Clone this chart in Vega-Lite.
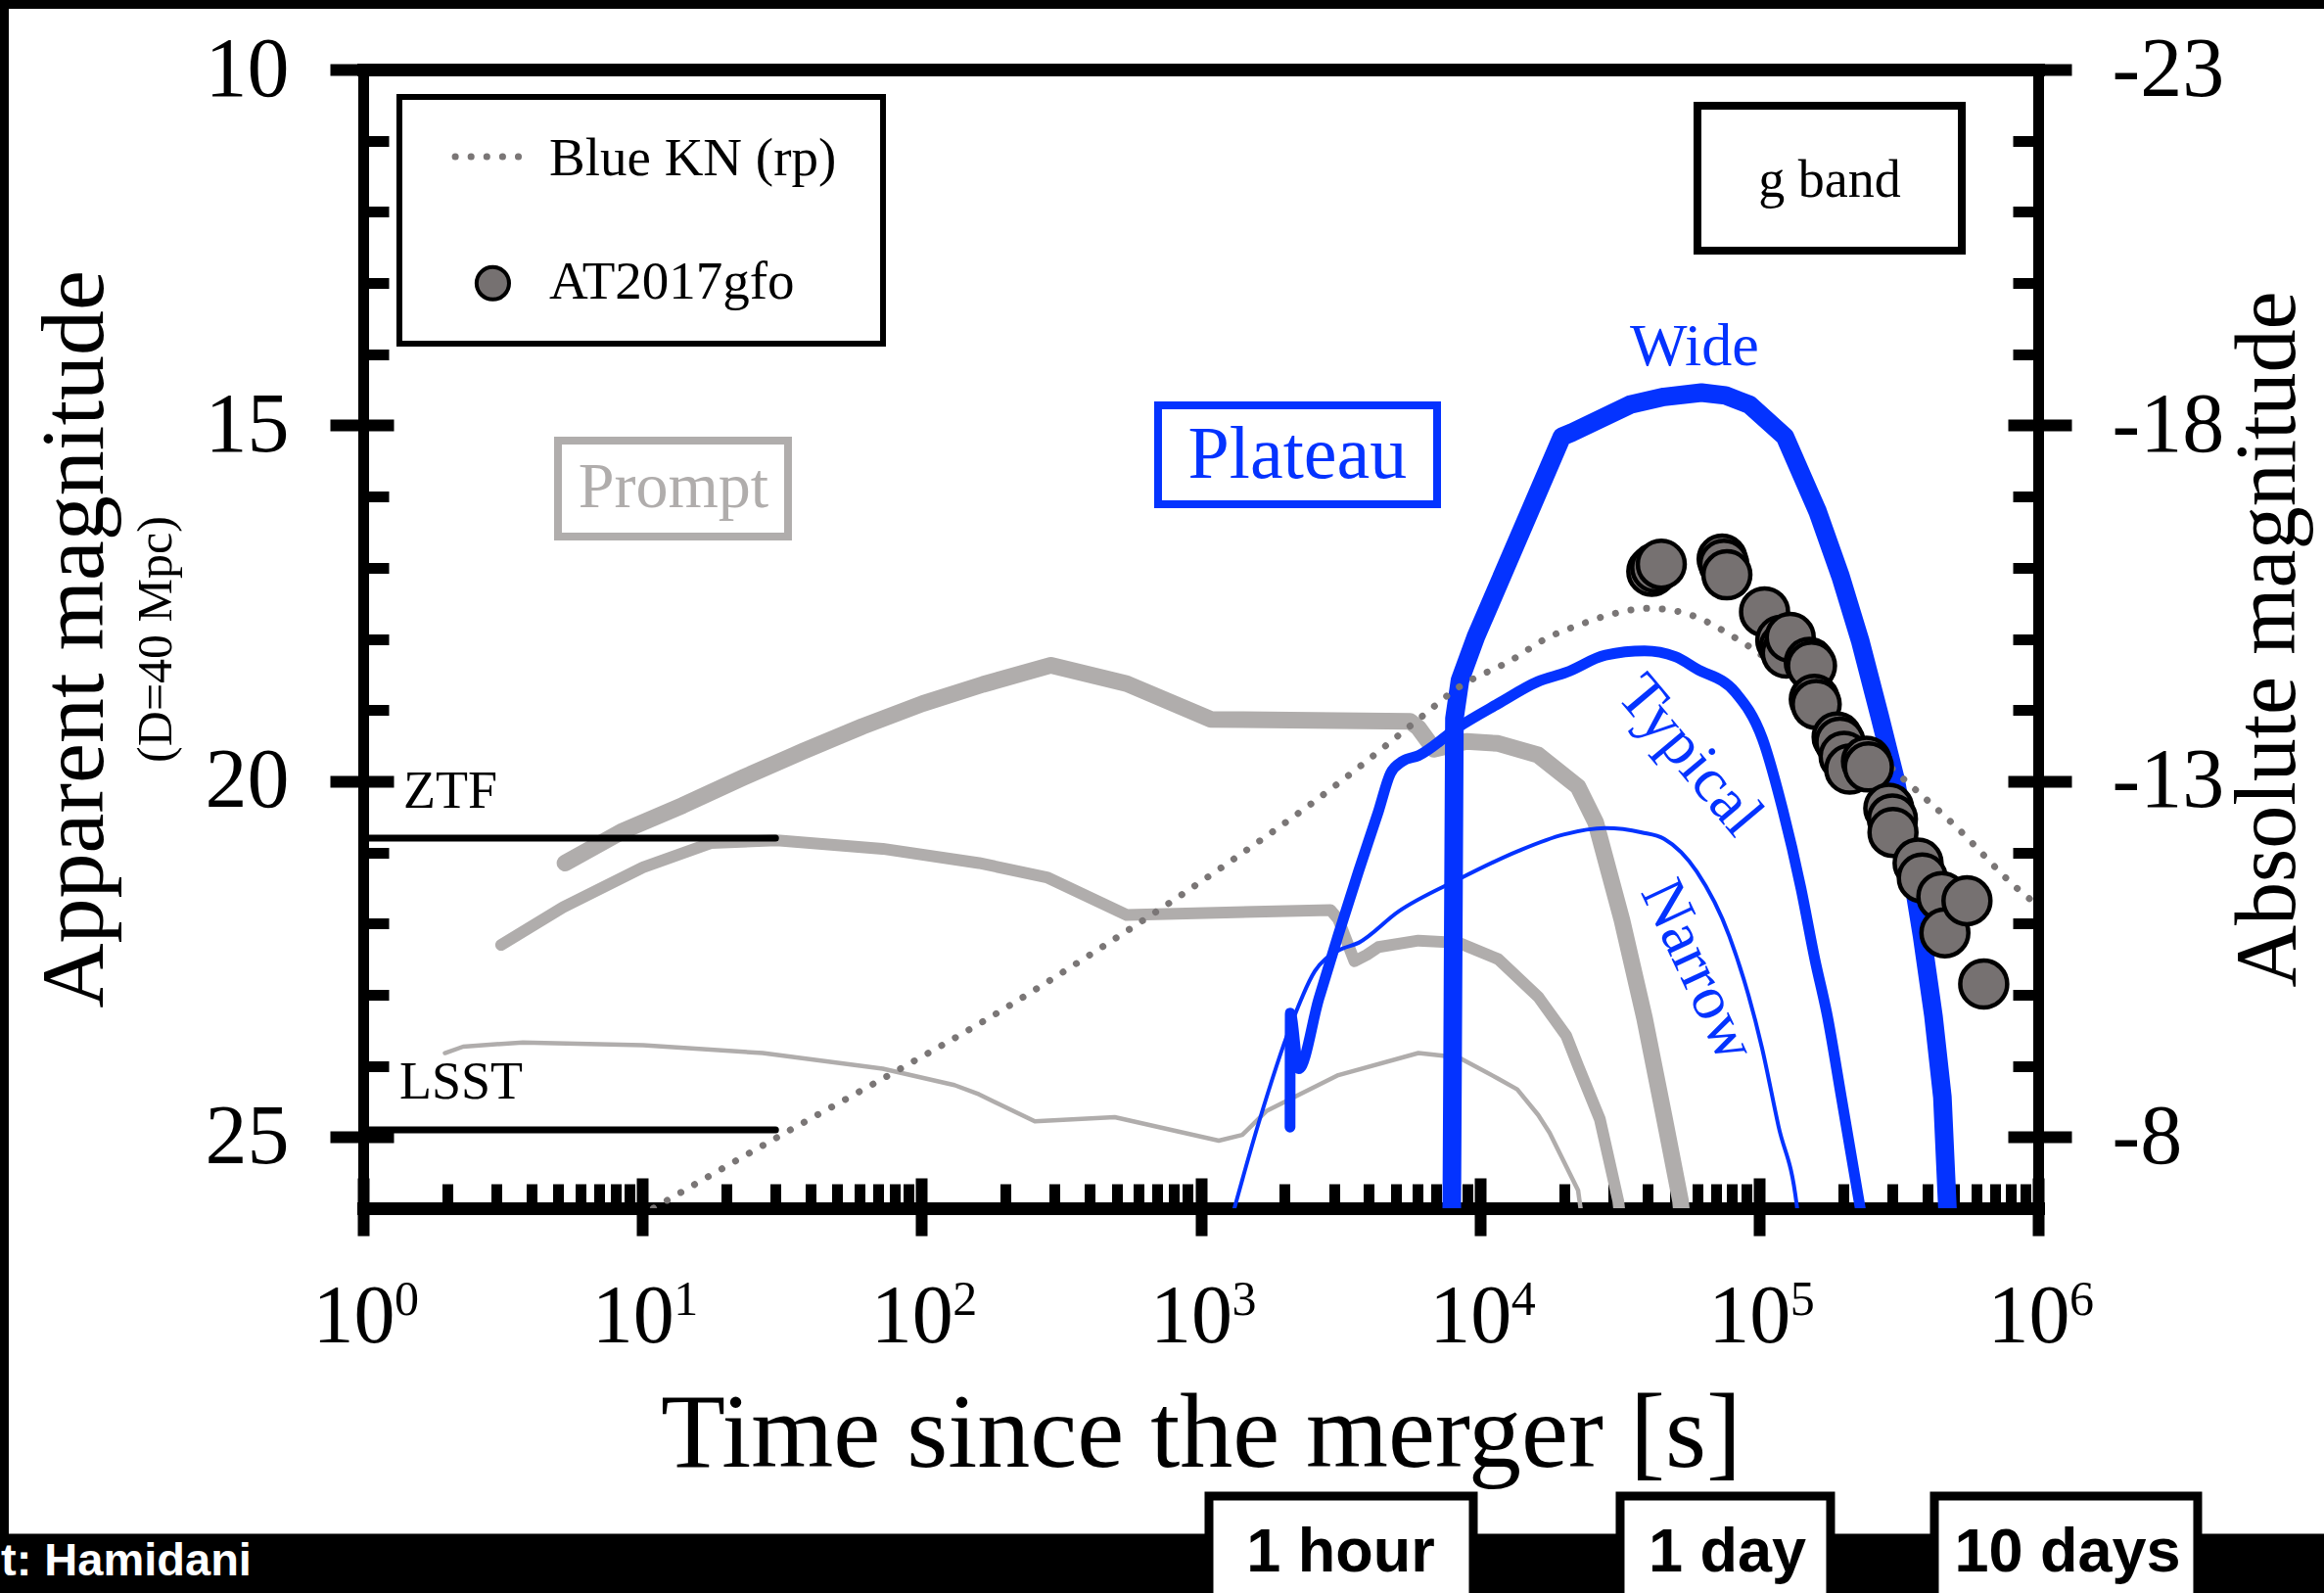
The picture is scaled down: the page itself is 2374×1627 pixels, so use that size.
{
"$schema": "https://vega.github.io/schema/vega-lite/v6.json",
"width": 1711, "height": 1163,
"autosize": {"type": "none"},
"padding": {"left": 371, "top": 71, "right": 292, "bottom": 393},
"background": "white",
"datasets": {
"curves": [
{"s":"g1","t":5.283,"m":21.15},{"s":"g1","t":8.511,"m":20.70},{"s":"g1","t":13.96,"m":20.34},{"s":"g1","t":22.91,"m":19.95},{"s":"g1","t":37.58,"m":19.58},{"s":"g1","t":61.52,"m":19.23},{"s":"g1","t":100.9,"m":18.91},{"s":"g1","t":166,"m":18.64},{"s":"g1","t":291.1,"m":18.37},{"s":"g1","t":543.3,"m":18.63},{"s":"g1","t":1086,"m":19.13},{"s":"g1","t":5636,"m":19.16},{"s":"g1","t":6026,"m":19.25},{"s":"g1","t":6855,"m":19.55},{"s":"g1","t":8954,"m":19.44},{"s":"g1","t":11641,"m":19.47},{"s":"g1","t":16144,"m":19.63},{"s":"g1","t":22491,"m":20.08},{"s":"g1","t":26002,"m":20.58},{"s":"g1","t":32285,"m":21.95},{"s":"g1","t":38905,"m":23.33},{"s":"g1","t":45709,"m":24.71},{"s":"g1","t":52360,"m":25.9},{"s":"g1","t":53830,"m":26.4},
{"s":"g2","t":3.119,"m":22.30},{"s":"g2","t":5.2,"m":21.77},{"s":"g2","t":10.05,"m":21.21},{"s":"g2","t":17.58,"m":20.87},{"s":"g2","t":30.27,"m":20.83},{"s":"g2","t":72.61,"m":20.95},{"s":"g2","t":160.7,"m":21.15},{"s":"g2","t":281.2,"m":21.35},{"s":"g2","t":543.3,"m":21.88},{"s":"g2","t":2917,"m":21.81},{"s":"g2","t":3112,"m":21.94},{"s":"g2","t":3556,"m":22.53},{"s":"g2","t":3936,"m":22.44},{"s":"g2","t":4335,"m":22.33},{"s":"g2","t":6026,"m":22.24},{"s":"g2","t":8395,"m":22.27},{"s":"g2","t":11641,"m":22.50},{"s":"g2","t":16181,"m":23.03},{"s":"g2","t":20417,"m":23.58},{"s":"g2","t":22491,"m":24.0},{"s":"g2","t":26915,"m":24.75},{"s":"g2","t":31333,"m":25.9},{"s":"g2","t":32359,"m":26.4},
{"s":"g3","t":1.963,"m":23.82},{"s":"g3","t":2.28,"m":23.73},{"s":"g3","t":3.733,"m":23.67},{"s":"g3","t":10.05,"m":23.71},{"s":"g3","t":26.98,"m":23.82},{"s":"g3","t":72.61,"m":24.04},{"s":"g3","t":131.2,"m":24.27},{"s":"g3","t":160.7,"m":24.40},{"s":"g3","t":254.7,"m":24.78},{"s":"g3","t":492,"m":24.72},{"s":"g3","t":1161,"m":25.05},{"s":"g3","t":1409,"m":24.97},{"s":"g3","t":1726,"m":24.63},{"s":"g3","t":3112,"m":24.13},{"s":"g3","t":6026,"m":23.82},{"s":"g3","t":8395,"m":23.88},{"s":"g3","t":11641,"m":24.18},{"s":"g3","t":13614,"m":24.33},{"s":"g3","t":16181,"m":24.69},{"s":"g3","t":17783,"m":24.94},{"s":"g3","t":22491,"m":25.75},{"s":"g3","t":23714,"m":26.4},
{"s":"kn","t":10.96,"m":26.0},{"s":"kn","t":31.84,"m":24.96},{"s":"kn","t":81.47,"m":24.07},{"s":"kn","t":165.6,"m":23.38},{"s":"kn","t":431.5,"m":22.36},{"s":"kn","t":1161,"m":21.24},{"s":"kn","t":3112,"m":20.03},{"s":"kn","t":6209,"m":19.09},{"s":"kn","t":8395,"m":18.68},{"s":"kn","t":12823,"m":18.31},{"s":"kn","t":17783,"m":17.97},{"s":"kn","t":22856,"m":17.80},{"s":"kn","t":29242,"m":17.66},{"s":"kn","t":40551,"m":17.57},{"s":"kn","t":56494,"m":17.66},{"s":"kn","t":82604,"m":17.99},{"s":"kn","t":92470,"m":18.11},{"s":"kn","t":169824,"m":18.95},{"s":"kn","t":309030,"m":19.87},{"s":"kn","t":514044,"m":20.66},{"s":"kn","t":837529,"m":21.50},{"s":"kn","t":1000000,"m":21.75},
{"s":"wide","t":7925,"m":26.4},{"s":"wide","t":8110,"m":19.12},{"s":"wide","t":8492,"m":18.58},{"s":"wide","t":9683,"m":17.97},{"s":"wide","t":19679,"m":15.16},{"s":"wide","t":21380,"m":15.10},{"s":"wide","t":34514,"m":14.71},{"s":"wide","t":45709,"m":14.60},{"s":"wide","t":62230,"m":14.54},{"s":"wide","t":75858,"m":14.58},{"s":"wide","t":92470,"m":14.71},{"s":"wide","t":123880,"m":15.16},{"s":"wide","t":162181,"m":16.21},{"s":"wide","t":195884,"m":17.12},{"s":"wide","t":230144,"m":18.02},{"s":"wide","t":270396,"m":19.08},{"s":"wide","t":309030,"m":19.99},{"s":"wide","t":344350,"m":21.04},{"s":"wide","t":383707,"m":22.17},{"s":"wide","t":421697,"m":23.30},{"s":"wide","t":453942,"m":24.44},{"s":"wide","t":473151,"m":26.0},{"s":"wide","t":478630,"m":26.4},
{"s":"typ","t":2090,"m":24.86},{"s":"typ","t":2094,"m":23.26},{"s":"typ","t":2244,"m":24.04},{"s":"typ","t":2649,"m":23.06},{"s":"typ","t":3112,"m":22.16},{"s":"typ","t":3681,"m":21.26},{"s":"typ","t":4335,"m":20.42},{"s":"typ","t":4786,"m":19.89},{"s":"typ","t":5284,"m":19.72},{"s":"typ","t":6026,"m":19.64},{"s":"typ","t":8375,"m":19.24},{"s":"typ","t":11641,"m":18.91},{"s":"typ","t":16144,"m":18.60},{"s":"typ","t":20417,"m":18.47},{"s":"typ","t":28184,"m":18.23},{"s":"typ","t":38905,"m":18.17},{"s":"typ","t":50119,"m":18.25},{"s":"typ","t":59704,"m":18.42},{"s":"typ","t":82224,"m":18.75},{"s":"typ","t":102802,"m":19.4},{"s":"typ","t":121619,"m":20.4},{"s":"typ","t":141254,"m":21.5},{"s":"typ","t":158489,"m":22.5},{"s":"typ","t":175792,"m":23.3},{"s":"typ","t":197242,"m":24.44},{"s":"typ","t":239883,"m":26.4},
{"s":"nar","t":1239,"m":26.4},{"s":"nar","t":1614,"m":24.80},{"s":"nar","t":2094,"m":23.45},{"s":"nar","t":2564,"m":22.67},{"s":"nar","t":3112,"m":22.38},{"s":"nar","t":3681,"m":22.27},{"s":"nar","t":5117,"m":21.83},{"s":"nar","t":8375,"m":21.38},{"s":"nar","t":13740,"m":20.98},{"s":"nar","t":19953,"m":20.75},{"s":"nar","t":28184,"m":20.66},{"s":"nar","t":38019,"m":20.72},{"s":"nar","t":45709,"m":20.81},{"s":"nar","t":59841,"m":21.27},{"s":"nar","t":78343,"m":22.18},{"s":"nar","t":102565,"m":23.75},{"s":"nar","t":117490,"m":24.85},{"s":"nar","t":136458,"m":25.95},{"s":"nar","t":140605,"m":26.4}
],
"pts": [
{"t":41300,"m":17.05},{"t":42660,"m":17.00},{"t":44670,"m":16.95},{"t":73790,"m":16.88},{"t":74820,"m":16.95},{"t":76740,"m":17.10},{"t":104700,"m":17.62},{"t":119700,"m":18.02},{"t":123000,"m":18.12},{"t":125300,"m":18.20},{"t":129400,"m":17.98},{"t":151400,"m":18.33},{"t":154200,"m":18.38},{"t":157800,"m":18.85},{"t":160300,"m":18.92},{"t":190500,"m":19.38},{"t":195000,"m":19.45},{"t":201800,"m":19.65},{"t":211300,"m":19.83},{"t":242700,"m":19.72},{"t":246600,"m":19.80},{"t":291700,"m":20.38},{"t":300600,"m":20.53},{"t":302000,"m":20.72},{"t":371500,"m":21.15},{"t":384600,"m":21.36},{"t":451900,"m":21.62},{"t":463400,"m":22.13},{"t":555900,"m":21.68},{"t":638300,"m":22.85}
]
},
"encoding": {
"x": {"field": "t", "type": "quantitative", "scale": {"type": "log", "domain": [1, 1000000], "nice": false}, "axis": null},
"y": {"field": "m", "type": "quantitative", "scale": {"domain": [10, 26], "reverse": true, "nice": false, "zero": false}, "axis": null}
},
"layer": [
{"data": {"values": [{"t":0.01,"t2":100000000,"m":5,"m2":9.147},{"t":0.01,"t2":0.05376,"m":5,"m2":33},{"t":0.01,"t2":100000000,"m":30.576,"m2":33}]},
 "mark": {"type": "rect", "color": "black"},
 "encoding": {"x2": {"field": "t2"}, "y2": {"field": "m2"}}},

{"data": {"values": [{"t":1000,"m":20}]}, "mark": {"type": "point", "opacity": 0},
 "encoding": {
  "x": {"field": "t", "type": "quantitative", "scale": {"type": "log", "domain": [1, 1000000], "nice": false},
        "axis": {"orient": "bottom", "values": [1,10,100,1000,10000,100000,1000000], "tickSize": 28, "tickWidth": 12, "domain": true, "domainWidth": 13,
                 "labelExpr": "'10'", "labelFontSize": 84, "labelPadding": 108, "labelBaseline": "alphabetic", "labelOffset": -10,
                 "title": "Time since the merger [s]", "titleFontSize": 108, "titleX": 855.5, "titleY": 263, "titleBaseline": "alphabetic", "titleAlign": "center", "titleAngle": 0}},
  "y": {"field": "m", "type": "quantitative", "scale": {"domain": [10, 26], "reverse": true, "nice": false, "zero": false},
        "axis": {"orient": "left", "values": [10,15,20,25], "tickSize": 34, "tickWidth": 12, "domain": true, "domainWidth": 11,
                 "labelFontSize": 86, "labelPadding": 42,
                 "title": "Apparent magnitude", "titleFontSize": 92, "titleX": -295, "titleY": 581.5, "titleAngle": -90, "titleBaseline": "middle", "titleAlign": "center"}}}},

{"data": {"values": [{"t":1000,"m":20}]}, "mark": {"type": "point", "opacity": 0},
 "encoding": {
  "x": {"field": "t", "type": "quantitative", "scale": {"type": "log", "domain": [1, 1000000], "nice": false},
        "axis": {"orient": "bottom", "values": [1,10,100,1000,10000,100000,1000000], "tickSize": -31, "tickWidth": 12, "domain": false, "labels": false, "title": null}},
  "y": {"field": "m", "type": "quantitative", "scale": {"domain": [10, 26], "reverse": true, "nice": false, "zero": false},
        "axis": {"orient": "left", "values": [10,15,20,25], "tickSize": -31, "tickWidth": 12, "domain": false, "labels": false,
                 "title": "(D=40 Mpc)", "titleFontSize": 50, "titleX": -212, "titleY": 581.5, "titleAngle": -90, "titleBaseline": "middle", "titleAlign": "center"}}}},

{"data": {"values": [{"t":1000,"m":20}]}, "mark": {"type": "point", "opacity": 0},
 "encoding": {
  "x": {"field": "t", "type": "quantitative", "scale": {"type": "log", "domain": [1, 1000000], "nice": false},
        "axis": {"orient": "bottom", "values": [2,3,4,5,6,7,8,9,20,30,40,50,60,70,80,90,200,300,400,500,600,700,800,900,2000,3000,4000,5000,6000,7000,8000,9000,20000,30000,40000,50000,60000,70000,80000,90000,200000,300000,400000,500000,600000,700000,800000,900000],
                 "tickSize": -25, "tickWidth": 11, "domain": false, "labels": false, "title": null}},
  "y": {"field": "m", "type": "quantitative", "scale": {"domain": [10, 26], "reverse": true, "nice": false, "zero": false},
        "axis": {"orient": "left", "values": [11,12,13,14,16,17,18,19,21,22,23,24], "tickSize": -26, "tickWidth": 11, "domain": false, "labels": false, "title": null}}}},

{"data": {"values": [{"t":1000,"m":20}]}, "mark": {"type": "point", "opacity": 0},
 "encoding": {
  "x": {"field": "t", "type": "quantitative", "scale": {"type": "log", "domain": [1, 1000000], "nice": false},
        "axis": {"orient": "bottom", "values": [1,10,100,1000,10000,100000,1000000], "ticks": false, "domain": false,
                 "labelExpr": "'' + round(log(datum.value) / LN10)", "labelFontSize": 50, "labelOffset": 44, "labelPadding": 108, "labelBaseline": "alphabetic", "title": null}},
  "y": {"field": "m", "type": "quantitative", "scale": {"domain": [10, 26], "reverse": true, "nice": false, "zero": false},
        "axis": {"orient": "right", "values": [10,15,20,25], "tickSize": 34, "tickWidth": 12, "domain": true, "domainWidth": 11,
                 "labelExpr": "'-' + (33 - datum.value)", "labelFontSize": 86, "labelPadding": 41,
                 "title": "Absolute magnitude", "titleFontSize": 88, "titleX": 235, "titleY": 581.5, "titleAngle": -90, "titleBaseline": "middle", "titleAlign": "center"}}}},

{"data": {"values": [{"t":1000,"m":20}]}, "mark": {"type": "point", "opacity": 0},
 "encoding": {
  "x": {"field": "t", "type": "quantitative", "scale": {"type": "log", "domain": [1, 1000000], "nice": false},
        "axis": {"orient": "top", "ticks": false, "labels": false, "domain": true, "domainWidth": 13, "title": null}},
  "y": {"field": "m", "type": "quantitative", "scale": {"domain": [10, 26], "reverse": true, "nice": false, "zero": false},
        "axis": {"orient": "right", "values": [10,15,20,25], "tickSize": -31, "tickWidth": 12, "domain": false, "labels": false, "title": null}}}},

{"data": {"values": [{"t":1000,"m":20}]}, "mark": {"type": "point", "opacity": 0},
 "encoding": {
  "y": {"field": "m", "type": "quantitative", "scale": {"domain": [10, 26], "reverse": true, "nice": false, "zero": false},
        "axis": {"orient": "right", "values": [11,12,13,14,16,17,18,19,21,22,23,24], "tickSize": -26, "tickWidth": 11, "domain": false, "labels": false, "title": null}}}},

{"data": {"name": "curves"}, "transform": [{"filter": "datum.s === 'g3'"}],
 "mark": {"type": "line", "color": "#b0adac", "strokeWidth": 4.5, "strokeCap": "round", "strokeJoin": "round", "clip": true}},
{"data": {"name": "curves"}, "transform": [{"filter": "datum.s === 'g2'"}],
 "mark": {"type": "line", "color": "#b0adac", "strokeWidth": 12, "strokeCap": "round", "strokeJoin": "round", "clip": true}},
{"data": {"name": "curves"}, "transform": [{"filter": "datum.s === 'g1'"}],
 "mark": {"type": "line", "color": "#b0adac", "strokeWidth": 17, "strokeCap": "round", "strokeJoin": "round", "clip": true}},

{"data": {"values": [{"t":1,"t2":30,"m":20.8},{"t":1,"t2":30,"m":24.9}]},
 "mark": {"type": "rule", "color": "black", "strokeWidth": 7, "strokeCap": "round"},
 "encoding": {"x2": {"field": "t2"}}},

{"data": {"name": "curves"}, "transform": [{"filter": "datum.s === 'nar'"}],
 "mark": {"type": "line", "color": "#0433ff", "strokeWidth": 4, "strokeCap": "round", "strokeJoin": "round", "interpolate": "monotone", "clip": true}},
{"data": {"name": "curves"}, "transform": [{"filter": "datum.s === 'typ'"}],
 "mark": {"type": "line", "color": "#0433ff", "strokeWidth": 11, "strokeCap": "round", "strokeJoin": "round", "interpolate": "monotone", "clip": true}},
{"data": {"name": "curves"}, "transform": [{"filter": "datum.s === 'wide'"}],
 "mark": {"type": "line", "color": "#0433ff", "strokeWidth": 19, "strokeCap": "round", "strokeJoin": "round", "clip": true}},

{"data": {"name": "curves"}, "transform": [{"filter": "datum.s === 'kn'"}],
 "mark": {"type": "line", "color": "#7a7676", "strokeWidth": 7, "strokeCap": "round", "strokeDash": [0.1, 16], "interpolate": "monotone", "clip": true}},

{"data": {"name": "pts"},
 "mark": {"type": "circle", "size": 2300, "fill": "#767171", "stroke": "black", "strokeWidth": 4.5, "opacity": 1}},

{"data": {"values": [{"t":1.348,"t2":72.8,"m":10.385,"m2":13.852}]},
 "mark": {"type": "rect", "filled": false, "stroke": "black", "strokeWidth": 6},
 "encoding": {"x2": {"field": "t2"}, "y2": {"field": "m2"}}},
{"data": {"values": [{"t":2.137,"m":11.224},{"t":3.886,"m":11.224}]},
 "mark": {"type": "line", "color": "#7a7676", "strokeWidth": 7, "strokeCap": "round", "strokeDash": [0.1, 16]}},
{"data": {"values": [{"t":2.913,"m":13.003}]},
 "mark": {"type": "circle", "size": 1100, "fill": "#767171", "stroke": "black", "strokeWidth": 4, "opacity": 1}},
{"data": {"values": [{"t":4.638,"m":11.48,"txt":"Blue KN (rp)"},{"t":4.638,"m":13.22,"txt":"AT2017gfo"}]},
 "mark": {"type": "text", "font": "Liberation Serif", "fontSize": 55, "color": "black", "align": "left", "baseline": "alphabetic"},
 "encoding": {"text": {"field": "txt"}}},

{"data": {"values": [{"t":4.986,"t2":33.25,"m":15.214,"m2":16.562}]},
 "mark": {"type": "rect", "filled": false, "stroke": "#b0adac", "strokeWidth": 8},
 "encoding": {"x2": {"field": "t2"}, "y2": {"field": "m2"}}},
{"data": {"values": [{"t":12.93,"m":15.874,"txt":"Prompt"}]},
 "mark": {"type": "text", "font": "Liberation Serif", "fontSize": 66, "color": "#b0adac", "align": "center", "baseline": "middle"},
 "encoding": {"text": {"field": "txt"}}},

{"data": {"values": [{"t":703.7,"t2":7028,"m":14.719,"m2":16.108}]},
 "mark": {"type": "rect", "filled": false, "stroke": "#0433ff", "strokeWidth": 8},
 "encoding": {"x2": {"field": "t2"}, "y2": {"field": "m2"}}},
{"data": {"values": [{"t":2223,"m":15.427,"txt":"Plateau"}]},
 "mark": {"type": "text", "font": "Liberation Serif", "fontSize": 76, "color": "#0433ff", "align": "center", "baseline": "middle"},
 "encoding": {"text": {"field": "txt"}}},

{"data": {"values": [{"t":60200,"t2":532700,"m":10.509,"m2":12.545}]},
 "mark": {"type": "rect", "filled": false, "stroke": "black", "strokeWidth": 8},
 "encoding": {"x2": {"field": "t2"}, "y2": {"field": "m2"}}},
{"data": {"values": [{"t":179000,"m":11.788,"txt":"g band"}]},
 "mark": {"type": "text", "font": "Liberation Serif", "fontSize": 54, "color": "black", "align": "center", "baseline": "alphabetic"},
 "encoding": {"text": {"field": "txt"}}},

{"data": {"values": [{"t":58750,"m":14.15,"txt":"Wide"}]},
 "mark": {"type": "text", "font": "Liberation Serif", "fontSize": 62, "color": "#0433ff", "align": "center", "baseline": "alphabetic"},
 "encoding": {"text": {"field": "txt"}}},
{"data": {"values": [{"t":56450,"m":19.64,"txt":"Typical"}]},
 "mark": {"type": "text", "font": "Liberation Serif", "fontSize": 64, "color": "#0433ff", "align": "center", "baseline": "middle", "angle": 50},
 "encoding": {"text": {"field": "txt"}}},
{"data": {"values": [{"t":60256,"m":22.66,"txt":"Narrow"}]},
 "mark": {"type": "text", "font": "Liberation Serif", "fontSize": 64, "color": "#0433ff", "align": "center", "baseline": "middle", "angle": 65},
 "encoding": {"text": {"field": "txt"}}},

{"data": {"values": [{"t":1.393,"m":20.377,"txt":"ZTF"},{"t":1.348,"m":24.453,"txt":"LSST"}]},
 "mark": {"type": "text", "font": "Liberation Serif", "fontSize": 54, "color": "black", "align": "left", "baseline": "alphabetic"},
 "encoding": {"text": {"field": "txt"}}},

{"data": {"values": [{"t":1071,"t2":9476,"m":30.044,"m2":33},{"t":31810,"t2":180500,"m":30.044,"m2":33},{"t":424900,"t2":3728000,"m":30.044,"m2":33}]},
 "mark": {"type": "rect", "fill": "white", "stroke": "black", "strokeWidth": 9},
 "encoding": {"x2": {"field": "t2"}, "y2": {"field": "m2"}}},
{"data": {"values": [{"t":3172,"m":31.10,"txt":"1 hour"},{"t":77040,"m":31.10,"txt":"1 day"},{"t":1274000,"m":31.10,"txt":"10 days"}]},
 "mark": {"type": "text", "font": "Liberation Sans", "fontWeight": "bold", "fontSize": 63, "color": "black", "align": "center", "baseline": "alphabetic"},
 "encoding": {"text": {"field": "txt"}}},
{"data": {"values": [{"t":0.398,"m":31.16,"txt":"Credit: Hamidani"}]},
 "mark": {"type": "text", "font": "Liberation Sans", "fontWeight": "bold", "fontSize": 47, "color": "white", "align": "right", "baseline": "alphabetic"},
 "encoding": {"text": {"field": "txt"}}}
],
"resolve": {"axis": {"x": "independent", "y": "independent"}},
"config": {
 "view": {"stroke": null},
 "axis": {"grid": false, "domainColor": "black", "tickColor": "black", "labelColor": "black", "titleColor": "black",
          "labelFont": "Liberation Serif", "titleFont": "Liberation Serif", "titleFontWeight": "normal",
          "labelFlush": false, "labelOverlap": false, "labelBound": false, "tickCap": "butt", "domainCap": "square"}
}
}
